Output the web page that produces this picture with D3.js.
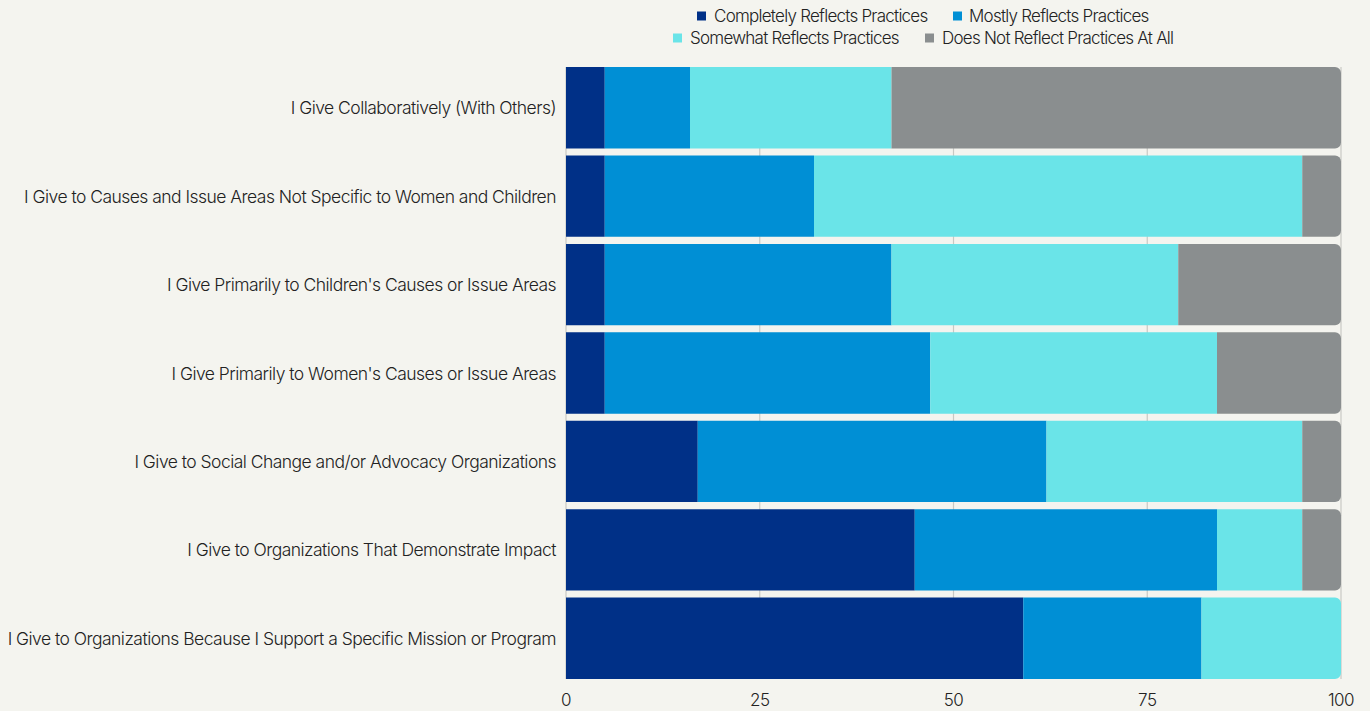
<!DOCTYPE html>
<html>
<head>
<meta charset="utf-8">
<script src="https://cdn.jsdelivr.net/npm/d3@7"></script>
<style>
  html, body { margin: 0; padding: 0; background: #f4f4ef; }
  svg text { font-family: "Inter", "Roboto", sans-serif; fill: #222; font-weight: 300; }
</style>
</head>
<body>
<svg id="chart" width="1370" height="711"></svg>
<script>
// categories, top to bottom
var categories = [
    "I Give Collaboratively (With Others)",
    "I Give to Causes and Issue Areas Not Specific to Women and Children",
    "I Give Primarily to Children's Causes or Issue Areas",
    "I Give Primarily to Women's Causes or Issue Areas",
    "I Give to Social Change and/or Advocacy Organizations",
    "I Give to Organizations That Demonstrate Impact",
    "I Give to Organizations Because I Support a Specific Mission or Program"
];

var seriesNames = [
    "Completely Reflects Practices",
    "Mostly Reflects Practices",
    "Somewhat Reflects Practices",
    "Does Not Reflect Practices At All"
];

// values per series, same order as categories
var completely = [5, 5, 5, 5, 17, 45, 59];
var mostly     = [11, 27, 37, 42, 45, 39, 23];
var somewhat   = [26, 63, 37, 37, 33, 11, 18];
var notAtAll   = [58, 5, 21, 16, 5, 5, 0];

var tickValues = [0, 25, 50, 75, 100];

var colors = ["#003087", "#008fd5", "#6ae4e8", "#8a8e8f"];

var svg = d3.select("#chart");

var x = d3.scaleLinear().domain([0, 100]).range([566, 1341]);
var y = d3.scaleBand().domain(categories).range([63.5, 682.5])
    .paddingInner(0.08).paddingOuter(0.04);

var rows = categories.map(function(c, i) {
    return { cat: c, s0: completely[i], s1: mostly[i], s2: somewhat[i], s3: notAtAll[i] };
});
var stack = d3.stack().keys(["s0", "s1", "s2", "s3"])(rows);

// gridlines
svg.append("g").selectAll("line")
    .data(tickValues)
    .enter().append("line")
    .attr("x1", function(d) { return x(d); })
    .attr("x2", function(d) { return x(d); })
    .attr("y1", 67)
    .attr("y2", 679)
    .attr("stroke", "#c8c8c4")
    .attr("stroke-width", 1.2);

// bars
var r = 6;
function segPath(d, isLast) {
    var x0 = x(d[0]), x1 = x(d[1]);
    var y0 = y(d.data.cat), h = y.bandwidth();
    if (!isLast || x1 - x0 < r) {
        return "M" + x0 + "," + y0 + "H" + x1 + "V" + (y0 + h) + "H" + x0 + "Z";
    }
    return "M" + x0 + "," + y0 +
        "H" + (x1 - r) + "A" + r + "," + r + " 0 0 1 " + x1 + "," + (y0 + r) +
        "V" + (y0 + h - r) + "A" + r + "," + r + " 0 0 1 " + (x1 - r) + "," + (y0 + h) +
        "H" + x0 + "Z";
}

stack.forEach(function(layer, k) {
    svg.append("g")
        .attr("fill", colors[k])
        .selectAll("path")
        .data(layer.filter(function(d) { return d[1] > d[0]; }))
        .enter().append("path")
        .attr("d", function(d) { return segPath(d, d[1] >= 99.9); });
});

// category labels
svg.append("g").selectAll("text")
    .data(categories)
    .enter().append("text")
    .attr("x", 556)
    .attr("y", function(d) { return y(d) + y.bandwidth() / 2; })
    .attr("text-anchor", "end")
    .attr("dominant-baseline", "central")
    .style("font-size", "17.5px")
    .style("letter-spacing", "-0.53px")
    .text(function(d) { return d; });

// x axis labels
svg.append("g").selectAll("text")
    .data(tickValues)
    .enter().append("text")
    .attr("x", function(d) { return x(d); })
    .attr("y", 700)
    .attr("text-anchor", "middle")
    .attr("dominant-baseline", "central")
    .style("font-size", "17px")
    .style("letter-spacing", "-0.5px")
    .text(function(d) { return d; });

// legend
var legendPos = [
    { sx: 697, tx: 714, y: 16 },
    { sx: 953, tx: 969, y: 16 },
    { sx: 673, tx: 690, y: 38 },
    { sx: 925, tx: 942, y: 38 }
];
var legend = svg.append("g").selectAll("g")
    .data(seriesNames)
    .enter().append("g");
legend.append("rect")
    .attr("x", function(d, i) { return legendPos[i].sx; })
    .attr("y", function(d, i) { return legendPos[i].y - 4.5; })
    .attr("width", 9)
    .attr("height", 9)
    .attr("fill", function(d, i) { return colors[i]; });
legend.append("text")
    .attr("x", function(d, i) { return legendPos[i].tx; })
    .attr("y", function(d, i) { return legendPos[i].y; })
    .attr("dominant-baseline", "central")
    .style("font-size", "17px")
    .style("letter-spacing", "-0.75px")
    .text(function(d) { return d; });
</script>
</body>
</html>
